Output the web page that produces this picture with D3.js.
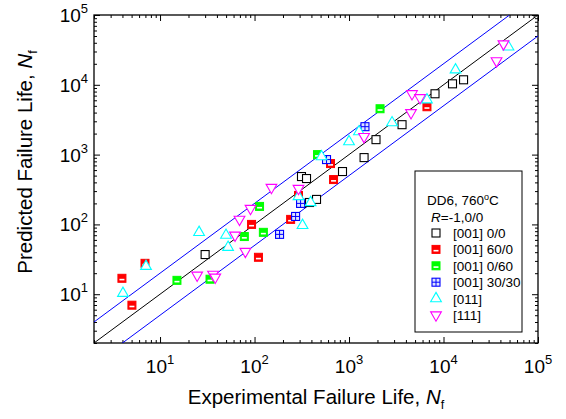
<!DOCTYPE html>
<html>
<head>
<meta charset="utf-8">
<script src="https://cdn.jsdelivr.net/npm/d3@7"></script>
<style>
  body { margin: 0; background: #fff; }
  svg { font-family: "Liberation Sans", Arial, sans-serif; }
</style>
</head>
<body>
<svg id="chart" width="566" height="419"></svg>
<script>
// [experimental Nf, predicted Nf]
var s001_00 = [[30, 37], [314, 485], [355, 454], [314, 200], [382, 206], [453, 228], [853, 572],
    [1443, 906], [1930, 1638], [3640, 2683], [8128, 7440], [12450, 10330], [16300, 11800]]
var s001_600 = [[3.95, 16.9], [6.93, 27.7], [5.04, 6.96], [110, 33.8], [93, 100], [241, 118],
    [292, 260], [637, 744], [686, 439], [6680, 4850]]
var s001_060 = [[15.1, 15.8], [33.8, 16.4], [78, 67], [113, 181], [124, 77], [464, 1000], [2130, 4540]]
var s001_3030 = [[184, 72], [272, 130], [307, 200], [578, 849], [1475, 2512]]
var s011 = [[4.05, 10.3], [7.1, 25.1], [25.9, 77], [49.9, 70], [52.5, 47], [292, 251], [392, 206],
    [322, 97], [512, 936], [1000, 1534], [1275, 2130], [2853, 2866], [6680, 6100], [13400, 16400], [48700, 34900]]
var s111 = [[24.7, 18.7], [36.4, 19.3], [38.4, 17.5], [62.2, 70], [80, 41], [69.3, 118], [90.7, 169],
    [151, 338], [292, 327], [1443, 1808], [4530, 3980], [4640, 7440], [5640, 6520], [36400, 22000], [43100, 38500]]

var majorTicks = [10, 100, 1000, 10000, 100000]
var legendLabels = ["[001] 0/0", "[001] 60/0", "[001] 0/60", "[001] 30/30", "[011]", "[111]"]

; (function () {

    var svg = d3.select("#chart")
    var pl = 94, pr = 538, pt = 15, pb = 343

    var x = d3.scaleLog().domain([2, 1e5]).range([pl, pr])
    var y = d3.scaleLog().domain([2, 1e5]).range([pb, pt])

    var minorTicks = []
    for (var p = 1; p <= 10000; p *= 10) {
        for (var m = 2; m <= 9; m++) {
            if (m * p >= 2 && m * p < 1e5) minorTicks.push(m * p)
        }
    }

    svg.append("clipPath").attr("id", "clip").append("rect")
        .attr("x", pl).attr("y", pt).attr("width", pr - pl).attr("height", pb - pt)

    // ticks, inward on all four sides
    function ticks(axisFn, scale, vals, len, transform) {
        svg.append("g").attr("transform", transform)
            .call(axisFn(scale).tickValues(vals).tickSize(-len).tickFormat(""))
            .call(function (g) {
                g.select(".domain").remove()
                g.selectAll("line").attr("stroke", "#000").attr("stroke-width", 1)
            })
    }
    ticks(d3.axisBottom, x, majorTicks, 6, "translate(0," + pb + ")")
    ticks(d3.axisBottom, x, minorTicks, 3, "translate(0," + pb + ")")
    ticks(d3.axisTop, x, majorTicks, 6, "translate(0," + pt + ")")
    ticks(d3.axisTop, x, minorTicks, 3, "translate(0," + pt + ")")
    ticks(d3.axisLeft, y, majorTicks, 6, "translate(" + pl + ",0)")
    ticks(d3.axisLeft, y, minorTicks, 3, "translate(" + pl + ",0)")
    ticks(d3.axisRight, y, majorTicks, 6, "translate(" + pr + ",0)")
    ticks(d3.axisRight, y, minorTicks, 3, "translate(" + pr + ",0)")

    svg.append("rect").attr("x", pl).attr("y", pt)
        .attr("width", pr - pl).attr("height", pb - pt)
        .attr("fill", "none").attr("stroke", "#000").attr("stroke-width", 1.3)

    // tick labels 10^n
    majorTicks.forEach(function (d) {
        var e = Math.round(Math.log10(d))
        var t = svg.append("text").attr("x", x(d)).attr("y", 373)
            .attr("text-anchor", "middle").attr("font-size", 19)
        t.append("tspan").text("10")
        t.append("tspan").attr("font-size", 13).attr("dy", -9).text(e)

        var t2 = svg.append("text").attr("x", 88).attr("y", y(d) + 7)
            .attr("text-anchor", "end").attr("font-size", 19)
        t2.append("tspan").text("10")
        t2.append("tspan").attr("font-size", 13).attr("dy", -9).text(e)
    })

    // axis titles
    var xt = svg.append("text").attr("x", 316).attr("y", 404)
        .attr("text-anchor", "middle").attr("font-size", 20.5)
    xt.append("tspan").text("Experimental Failure Life, ")
    xt.append("tspan").attr("font-style", "italic").text("N")
    xt.append("tspan").attr("font-size", 12.5).attr("dy", 5).text("f")

    var yt = svg.append("text").attr("transform", "translate(32,162) rotate(-90)")
        .attr("text-anchor", "middle").attr("font-size", 20.5)
    yt.append("tspan").text("Predicted Failure Life, ")
    yt.append("tspan").attr("font-style", "italic").text("N")
    yt.append("tspan").attr("font-size", 12.5).attr("dy", 5).text("f")

    // 1:1 line and factor-of-2 bands
    var line = d3.line().x(function (d) { return x(d[0]) }).y(function (d) { return y(d[1]) })
    var plot = svg.append("g").attr("clip-path", "url(#clip)")
    plot.append("path").datum([[2, 2], [1e5, 1e5]]).attr("d", line)
        .attr("stroke", "#000").attr("fill", "none")
    plot.append("path").datum([[1, 2], [5e4, 1e5]]).attr("d", line)
        .attr("stroke", "#0000ff").attr("fill", "none")
    plot.append("path").datum([[2, 1], [1e5, 5e4]]).attr("d", line)
        .attr("stroke", "#0000ff").attr("fill", "none")

    // marker drawing
    function openSquare(g, color) {
        g.append("rect").attr("x", -4).attr("y", -4).attr("width", 8).attr("height", 8)
            .attr("fill", "#fff").attr("stroke", color).attr("stroke-width", 1.1)
    }
    function halfSquare(g, color) {
        g.append("rect").attr("x", -4).attr("y", -4).attr("width", 8).attr("height", 8)
            .attr("fill", color).attr("stroke", color).attr("stroke-width", 1)
        g.append("rect").attr("x", -2.5).attr("y", 0.5).attr("width", 5).attr("height", 1.6)
            .attr("fill", "#fff")
    }
    function crossSquare(g, color) {
        g.append("rect").attr("x", -4).attr("y", -4).attr("width", 8).attr("height", 8)
            .attr("fill", "#dde4ff").attr("stroke", color).attr("stroke-width", 1.1)
        g.append("path").attr("d", "M0,-4V4M-4,0H4").attr("stroke", color).attr("stroke-width", 1)
    }
    function triUp(g, color) {
        g.append("path").attr("d", d3.symbol(d3.symbolTriangle, 50)())
            .attr("fill", "#fff").attr("stroke", color).attr("stroke-width", 1.1)
    }
    function triDown(g, color) {
        g.append("path").attr("d", d3.symbol(d3.symbolTriangle, 50)())
            .attr("transform", "rotate(180)")
            .attr("fill", "#fff").attr("stroke", color).attr("stroke-width", 1.1)
    }

    var series = [
        { data: s001_00, color: "#000", draw: openSquare },
        { data: s001_600, color: "#ff0000", draw: halfSquare },
        { data: s001_060, color: "#00ff00", draw: halfSquare },
        { data: s001_3030, color: "#0000ff", draw: crossSquare },
        { data: s011, color: "#00ffff", draw: triUp },
        { data: s111, color: "#ff00ff", draw: triDown }
    ]

    series.forEach(function (s) {
        svg.append("g").selectAll("g").data(s.data).enter().append("g")
            .attr("transform", function (d) { return "translate(" + x(d[0]) + "," + y(d[1]) + ")" })
            .each(function () { s.draw(d3.select(this), s.color) })
    })

    // legend
    svg.append("rect").attr("x", 415).attr("y", 171).attr("width", 107).attr("height", 161)
        .attr("fill", "#fff").attr("stroke", "#000").attr("stroke-width", 1)
    var lt = svg.append("text").attr("x", 427).attr("y", 205).attr("font-size", 13.5)
    lt.append("tspan").text("DD6, 760")
    lt.append("tspan").attr("font-size", 9).attr("dy", -5).text("o")
    lt.append("tspan").attr("dy", 5).text("C")
    var rt = svg.append("text").attr("x", 431).attr("y", 222).attr("font-size", 13.5)
    rt.append("tspan").attr("font-style", "italic").text("R")
    rt.append("tspan").text("=-1,0/0")

    legendLabels.forEach(function (lab, i) {
        var cy = 233 + i * 16.4
        var g = svg.append("g").attr("transform", "translate(436," + cy + ")")
        series[i].draw(g, series[i].color)
        svg.append("text").attr("x", 453).attr("y", cy + 5).attr("font-size", 13.5).text(lab)
    })

})();
</script>
</body>
</html>
